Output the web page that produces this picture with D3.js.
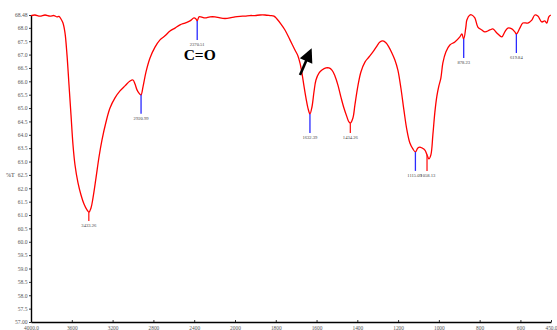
<!DOCTYPE html>
<html>
<head>
<meta charset="utf-8">
<script src="https://cdn.jsdelivr.net/npm/d3@7"></script>
<style>
  html, body { margin: 0; padding: 0; background: #fff; }
  svg { display: block; }
  svg text { font-family: "Liberation Serif", "DejaVu Serif", serif; }
</style>
</head>
<body>
<svg id="chart" width="557" height="330"></svg>
<script>
// ---- Data ----
const wavenumber = [
  4000.0, 3960.8, 3911.8, 3862.7, 3813.7, 3774.5, 3745.1, 3725.5, 3705.9, 3686.3,
  3666.7, 3647.1, 3627.4, 3607.8, 3588.2, 3568.6, 3539.2, 3509.8, 3480.4, 3451.0,
  3431.4, 3411.8, 3392.2, 3362.7, 3333.3, 3303.9, 3264.7, 3225.5, 3176.5, 3127.5,
  3078.4, 3029.4, 3000.0, 2980.4, 2960.8, 2941.2, 2921.6, 2902.0, 2872.5, 2833.3,
  2784.3, 2735.3, 2686.3, 2637.3, 2588.2, 2539.2, 2490.2, 2441.2, 2402.0, 2382.4,
  2370.5, 2352.9, 2333.3, 2294.1, 2245.1, 2196.1, 2147.1, 2098.0, 2049.0, 2000.0,
  1975.5, 1951.0, 1926.5, 1902.0, 1877.5, 1853.0, 1828.4, 1808.8, 1794.1, 1774.5,
  1754.9, 1730.4, 1705.9, 1691.2, 1681.4, 1671.6, 1661.8, 1652.0, 1642.2, 1632.4,
  1622.5, 1612.7, 1602.9, 1588.2, 1573.5, 1553.9, 1539.2, 1524.5, 1509.8, 1495.1,
  1480.4, 1465.7, 1451.0, 1441.2, 1434.3, 1421.6, 1411.8, 1397.1, 1382.4, 1362.7,
  1343.1, 1323.5, 1303.9, 1289.2, 1274.5, 1259.8, 1245.1, 1230.4, 1215.7, 1201.0,
  1186.3, 1171.6, 1156.9, 1142.2, 1127.5, 1115.1, 1103.0, 1093.1, 1083.3, 1068.6,
  1058.1, 1049.0, 1039.2, 1029.4, 1019.6, 1009.8, 1000.0, 990.2, 980.4, 965.7,
  946.1, 921.6, 897.1, 887.3, 878.2, 867.6, 862.7, 848.0, 838.2, 823.5,
  808.8, 789.2, 774.5, 750.0, 735.3, 715.7, 691.2, 676.5, 661.8, 642.2,
  627.5, 619.8, 602.9, 588.2, 563.7, 544.1, 529.4, 514.7, 495.1, 480.4,
  470.6, 460.8, 451.0
];
const transmittance = [
  68.46, 68.48, 68.44, 68.48, 68.44, 68.46, 68.41, 68.43, 68.33, 68.18,
  67.81, 66.99, 65.86, 64.74, 63.62, 62.87, 62.20, 61.75, 61.41, 61.19,
  61.11, 61.26, 61.64, 62.39, 63.17, 63.81, 64.48, 65.00, 65.38, 65.64,
  65.83, 66.01, 66.05, 65.90, 65.68, 65.56, 65.49, 65.79, 66.35, 66.87,
  67.28, 67.55, 67.70, 67.88, 67.99, 68.11, 68.18, 68.26, 68.37, 68.33,
  68.26, 68.41, 68.41, 68.37, 68.41, 68.41, 68.37, 68.35, 68.37, 68.41,
  68.43, 68.44, 68.46, 68.46, 68.48, 68.48, 68.46, 68.44, 68.33, 68.14,
  67.92, 67.55, 67.17, 66.95, 66.69, 66.31, 65.83, 65.38, 65.00, 64.78,
  65.04, 65.60, 66.05, 66.31, 66.42, 66.50, 66.50, 66.42, 66.20, 65.86,
  65.41, 65.00, 64.67, 64.48, 64.44, 64.63, 65.12, 65.83, 66.35, 66.72,
  66.91, 67.10, 67.32, 67.47, 67.51, 67.44, 67.28, 67.06, 66.80, 66.42,
  65.75, 64.93, 64.18, 63.69, 63.47, 63.36, 63.51, 63.54, 63.51, 63.43,
  63.25, 63.10, 63.25, 64.00, 64.85, 65.45, 65.83, 66.12, 66.69, 67.10,
  67.36, 67.47, 67.66, 67.77, 67.58, 68.03, 68.29, 68.48, 68.48, 68.37,
  68.03, 67.92, 67.85, 67.92, 67.96, 67.81, 67.66, 67.85, 67.99, 67.96,
  67.85, 67.77, 67.99, 68.18, 68.18, 68.29, 68.48, 68.44, 68.22, 68.26,
  68.18, 68.41, 68.48
];

// Peak annotations
const peakWavenumbers = [3433.26, 2920.99, 2370.51, 1632.39, 1434.26, 1115.09, 1058.13, 878.23, 619.84];
const peakLabels      = ["3433.26", "2920.99", "2370.51", "1632.39", "1434.26", "1115.09", "1058.13", "878.23", "619.84"];
const peakKinds       = ["red", "blue", "blue", "blue", "red", "blue", "red", "blue", "blue"];

// Axis ticks
const xTickValues = [4000, 3600, 3200, 2800, 2400, 2000, 1800, 1600, 1400, 1200, 1000, 800, 600, 450];
const xTickLabels = ["4000.0", "3600", "3200", "2800", "2400", "2000", "1800", "1600", "1400", "1200", "1000", "800", "600", "450.0"];
const yTickValues = [57.0, 57.5, 58.0, 58.5, 59.0, 59.5, 60.0, 60.5, 61.0, 61.5, 62.0, 62.5, 63.0, 63.5, 64.0, 64.5, 65.0, 65.5, 66.0, 66.5, 67.0, 67.5, 68.0, 68.48];
const yTickLabels = ["57.00", "57.5", "58.0", "58.5", "59.0", "59.5", "60.0", "60.5", "61.0", "61.5", "62.0", "62.5", "63.0", "63.5", "64.0", "64.5", "65.0", "65.5", "66.0", "66.5", "67.0", "67.5", "68.0", "68.48"];

const yAxisTitle = "%T";
const annotationText = "C=O";
const arrowFrom = [1681, 66.24];   // [wavenumber, %T]
const arrowTo   = [1624, 67.24];

// ---- Drawing ----
const svg = d3.select("#chart");
const x = d3.scaleLinear().domain([4000, 2000, 450]).range([31, 235, 551]);
const y = d3.scaleLinear().domain([57, 68.48]).range([322, 15]);

// Axes
const xAxis = d3.axisBottom(x).tickValues(xTickValues)
  .tickFormat((d, i) => xTickLabels[i]).tickSizeInner(-2).tickSizeOuter(0).tickPadding(4);
const gx = svg.append("g").attr("transform", `translate(0,${y(57)})`).call(xAxis);
gx.attr("font-family", null);
gx.select(".domain").attr("stroke", "#000").attr("stroke-width", 1.4);
gx.selectAll(".tick line").attr("stroke", "#000").attr("stroke-width", 0.8);
gx.selectAll(".tick text").style("font-size", "5.4px").attr("fill", "#555");

const yAxis = d3.axisLeft(y).tickValues(yTickValues)
  .tickFormat((d, i) => yTickLabels[i]).tickSizeInner(2).tickSizeOuter(0).tickPadding(1.5);
const gy = svg.append("g").attr("transform", `translate(${x(4000)},0)`).call(yAxis);
gy.attr("font-family", null);
gy.select(".domain").attr("stroke", "#000").attr("stroke-width", 1.4);
gy.selectAll(".tick line").attr("stroke", "#000").attr("stroke-width", 0.8);
gy.selectAll(".tick text").style("font-size", "5.6px").attr("fill", "#555");

svg.append("text")
  .attr("x", 6).attr("y", y(62.5) + 2)
  .style("font-size", "6px").attr("fill", "#444")
  .text(yAxisTitle);

// Spectrum line
const pts = wavenumber.map((w, i) => [w, transmittance[i]]);
svg.append("path")
  .datum(pts)
  .attr("fill", "none")
  .attr("stroke", "#ff0000")
  .attr("stroke-width", 1.3)
  .attr("stroke-linejoin", "round")
  .attr("d", d3.line().x(d => x(d[0])).y(d => y(d[1])).curve(d3.curveCatmullRom.alpha(0.5)));

// Interpolate %T at a wavenumber
function tAt(w) {
  for (let i = 0; i < wavenumber.length - 1; i++) {
    const a = wavenumber[i], b = wavenumber[i + 1];
    if (w <= a && w >= b) {
      const t = (a - w) / (a - b);
      return transmittance[i] + t * (transmittance[i + 1] - transmittance[i]);
    }
  }
  return transmittance[transmittance.length - 1];
}

// Peak markers
const markerLen = { blue: 19, red: 9 };
const markerColor = { blue: "#2a2aff", red: "#ff1a1a" };
const peaks = peakWavenumbers.map((w, i) => {
  const kind = peakKinds[i];
  const py = y(tAt(w));
  return { w, label: peakLabels[i], kind, px: x(w), py, end: py + markerLen[kind] };
});
peaks.forEach(p => {
  if (p.kind === "red") {
    const nb = peaks.filter(q => q.kind === "blue" && Math.abs(q.px - p.px) < 45);
    if (nb.length) p.end = Math.max(p.end, nb[0].end);
  }
});

const gm = svg.append("g");
gm.selectAll("line").data(peaks).join("line")
  .attr("x1", d => d.px).attr("x2", d => d.px)
  .attr("y1", d => d.py).attr("y2", d => d.end)
  .attr("stroke", d => markerColor[d.kind]).attr("stroke-width", 1.3);
gm.selectAll("text").data(peaks).join("text")
  .attr("x", d => d.px + (d.label === "1115.09" ? -0.8 : d.label === "1058.13" ? 0.8 : 0))
  .attr("y", d => d.end + 6)
  .attr("text-anchor", "middle")
  .style("font-size", "4.6px").attr("fill", "#444")
  .text(d => d.label);

// C=O annotation under 2370.51 marker
const co = peaks.find(p => p.label === "2370.51");
svg.append("text")
  .attr("x", co.px + 2.5).attr("y", co.end + 20)
  .attr("text-anchor", "middle")
  .style("font-weight", "bold").style("font-size", "15.5px")
  .attr("fill", "#000")
  .text(annotationText);

// Arrow
const ax0 = x(arrowFrom[0]), ay0 = y(arrowFrom[1]);
const ax1 = x(arrowTo[0]), ay1 = y(arrowTo[1]);
const dx = ax1 - ax0, dy = ay1 - ay0, L = Math.hypot(dx, dy);
const ux = dx / L, uy = dy / L, nx = -uy, ny = ux;
const headLen = 14, headHalf = 6.8;
const bx = ax1 - ux * headLen, by = ay1 - uy * headLen;
svg.append("line")
  .attr("x1", ax0).attr("y1", ay0).attr("x2", bx + ux * 2).attr("y2", by + uy * 2)
  .attr("stroke", "#000").attr("stroke-width", 2.6);
svg.append("path")
  .attr("d", `M${ax1},${ay1}L${bx + nx * headHalf},${by + ny * headHalf}L${bx - nx * headHalf},${by - ny * headHalf}Z`)
  .attr("fill", "#000");
</script>
</body>
</html>
